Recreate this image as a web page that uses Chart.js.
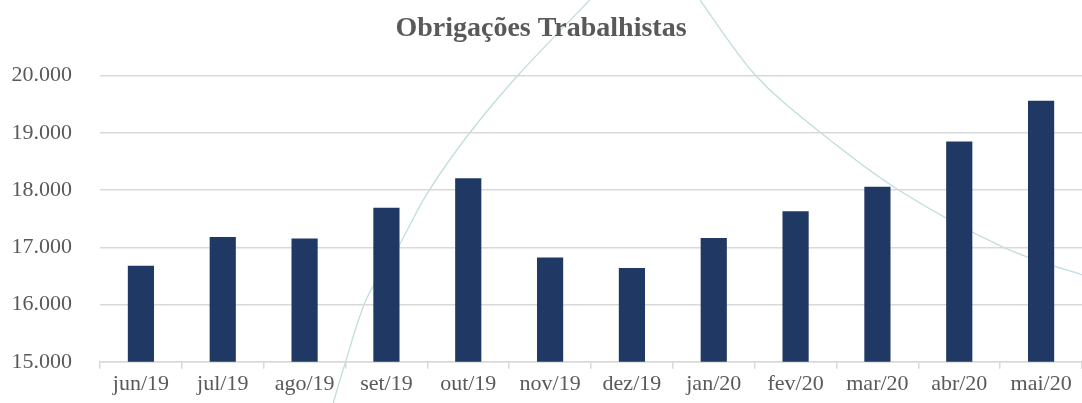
<!DOCTYPE html>
<html>
<head>
<meta charset="utf-8">
<title>Obrigações Trabalhistas</title>
<script src="https://cdn.jsdelivr.net/npm/chart.js@4/dist/chart.umd.min.js"></script>
<style>
    html, body { margin: 0; padding: 0; background: #ffffff; }
    #wrap { width: 1082px; height: 403px; position: relative; }
</style>
</head>
<body>
<div id="wrap"><canvas id="chart"></canvas></div>
<script>
const months = ['jun/19', 'jul/19', 'ago/19', 'set/19', 'out/19', 'nov/19', 'dez/19', 'jan/20', 'fev/20', 'mar/20', 'abr/20', 'mai/20'];
const obrigacoes = [16680, 17180, 17155, 17690, 18205, 16820, 16640, 17165, 17630, 18060, 18850, 19560];
const yTicks = [15000, 16000, 17000, 18000, 19000, 20000];

// faint background swoosh, as fractions of the canvas (decoration only)
const swooshLeft = [[0.308, 1.0], [0.319, 0.901], [0.339, 0.74], [0.367, 0.618], [0.395, 0.479], [0.434, 0.330], [0.479, 0.186], [0.545, 0.0]];
const swooshRight = [[0.647, 0.0], [0.698, 0.186], [0.758, 0.328], [0.832, 0.474], [0.927, 0.613], [1.0, 0.682]];

function fmt(v) {
    return String(v).replace(/\B(?=(\d{3})+(?!\d))/g, '.');
}

const swooshPlugin = {
    id: 'swoosh',
    beforeDraw(chart) {
        const ctx = chart.ctx;
        const w = chart.width, h = chart.height;
        ctx.save();
        ctx.strokeStyle = 'rgba(170, 210, 210, 0.75)';
        ctx.lineWidth = 1.3;
        [swooshLeft, swooshRight].forEach(function(pts) {
            const p = pts.map(q => [q[0] * w, q[1] * h]);
            ctx.beginPath();
            ctx.moveTo(p[0][0], p[0][1]);
            // catmull-rom through the points
            for (let i = 0; i < p.length - 1; i++) {
                const p0 = p[Math.max(i - 1, 0)], p1 = p[i], p2 = p[i + 1], p3 = p[Math.min(i + 2, p.length - 1)];
                ctx.bezierCurveTo(
                    p1[0] + (p2[0] - p0[0]) / 6, p1[1] + (p2[1] - p0[1]) / 6,
                    p2[0] - (p3[0] - p1[0]) / 6, p2[1] - (p3[1] - p1[1]) / 6,
                    p2[0], p2[1]);
            }
            ctx.stroke();
        });
        ctx.restore();
    }
};

const ctx = document.getElementById('chart').getContext('2d');
new Chart(ctx, {
    type: 'bar',
    data: {
        labels: months,
        datasets: [{
            label: 'Obrigações Trabalhistas',
            data: obrigacoes,
            backgroundColor: '#203864',
            borderWidth: 0,
            categoryPercentage: 1.0,
            barPercentage: 0.32
        }]
    },
    options: {
        responsive: true,
        maintainAspectRatio: false,
        animation: false,
        layout: { padding: { left: 0, right: 0, top: 0, bottom: 0 } },
        plugins: {
            legend: { display: false },
            tooltip: { enabled: false },
            title: {
                display: true,
                text: 'Obrigações Trabalhistas',
                color: '#595959',
                font: { family: 'Liberation Serif', size: 28, weight: 'bold' },
                padding: { top: 12, bottom: 30 }
            }
        },
        scales: {
            x: {
                offset: true,
                grid: {
                    offset: true,
                    drawOnChartArea: false,
                    drawTicks: true,
                    tickLength: 7,
                    color: '#d9d9d9',
                    lineWidth: 1.5
                },
                border: { display: true, color: '#d9d9d9', width: 1.5 },
                ticks: {
                    color: '#595959',
                    font: { family: 'Liberation Serif', size: 22 },
                    padding: 2,
                    maxRotation: 0,
                    autoSkip: false
                }
            },
            y: {
                min: yTicks[0],
                max: yTicks[yTicks.length - 1],
                afterBuildTicks(scale) {
                    scale.ticks = yTicks.map(v => ({ value: v }));
                },
                afterFit(scale) {
                    scale.width = 100;
                },
                grid: {
                    color: '#d9d9d9',
                    lineWidth: 1.5,
                    drawTicks: false
                },
                border: { display: false },
                ticks: {
                    color: '#595959',
                    font: { family: 'Liberation Serif', size: 22 },
                    padding: 28,
                    callback: function(value) { return fmt(value); }
                }
            }
        }
    },
    plugins: [swooshPlugin]
});
</script>
</body>
</html>
